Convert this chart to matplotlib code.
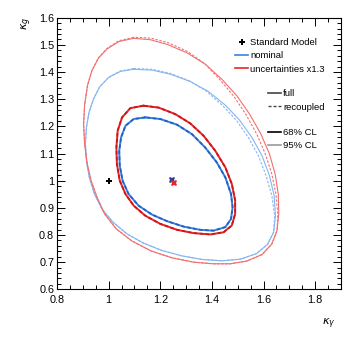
import matplotlib
matplotlib.use("Agg")
import matplotlib.pyplot as plt
from matplotlib.lines import Line2D
from matplotlib.ticker import MultipleLocator, FuncFormatter

plt.rcParams['font.family'] = ['Liberation Sans', 'DejaVu Sans']

# contours (kappa_gamma, kappa_g)
# 95% CL, uncertainties x1.3
x95_red = [1.097, 1.039, 0.994, 0.961, 0.935, 0.918, 0.907, 0.903, 0.907, 0.917, 0.932, 0.955, 0.984,
           1.030, 1.090, 1.165, 1.245, 1.329, 1.406, 1.471, 1.535, 1.594, 1.632, 1.652, 1.659, 1.657,
           1.645, 1.623, 1.590, 1.546, 1.497, 1.439, 1.374, 1.303, 1.226, 1.161, 1.097]
y95_red = [1.524, 1.512, 1.485, 1.452, 1.405, 1.350, 1.280, 1.208, 1.135, 1.061, 1.000, 0.939, 0.878,
           0.822, 0.778, 0.741, 0.716, 0.700, 0.694, 0.694, 0.704, 0.728, 0.767, 0.816, 0.878, 0.951,
           1.024, 1.098, 1.171, 1.245, 1.312, 1.373, 1.429, 1.471, 1.502, 1.519, 1.524]
x95_red_rc = [1.097, 1.039, 0.994, 0.961, 0.935, 0.918, 0.907, 0.903, 0.907, 0.917, 0.932, 0.955, 0.984,
              1.030, 1.090, 1.165, 1.245, 1.329, 1.406, 1.471, 1.535, 1.594, 1.632, 1.652, 1.655, 1.648,
              1.632, 1.607, 1.574, 1.531, 1.484, 1.430, 1.372, 1.305, 1.230, 1.163, 1.097]
y95_red_rc = [1.528, 1.515, 1.487, 1.453, 1.405, 1.350, 1.280, 1.208, 1.135, 1.061, 1.000, 0.939, 0.878,
              0.822, 0.778, 0.741, 0.716, 0.700, 0.694, 0.694, 0.704, 0.728, 0.767, 0.816, 0.878, 0.951,
              1.024, 1.098, 1.171, 1.245, 1.312, 1.373, 1.431, 1.476, 1.508, 1.525, 1.528]
# 95% CL, nominal
x95_blue = [1.097, 1.045, 1.000, 0.965, 0.941, 0.924, 0.914, 0.910, 0.914, 0.925, 0.945, 0.974, 1.017,
            1.071, 1.135, 1.206, 1.284, 1.361, 1.439, 1.510, 1.572, 1.615, 1.639, 1.646, 1.641, 1.623,
            1.594, 1.555, 1.507, 1.452, 1.387, 1.316, 1.239, 1.168, 1.097]
y95_blue = [1.410, 1.402, 1.380, 1.345, 1.300, 1.252, 1.196, 1.135, 1.073, 1.012, 0.951, 0.896, 0.847,
            0.804, 0.770, 0.743, 0.723, 0.710, 0.705, 0.711, 0.731, 0.765, 0.810, 0.871, 0.945, 1.018,
            1.092, 1.159, 1.223, 1.278, 1.328, 1.365, 1.392, 1.407, 1.410]
x95_blue_rc = [1.097, 1.045, 1.000, 0.965, 0.941, 0.924, 0.914, 0.910, 0.914, 0.925, 0.945, 0.974, 1.017,
               1.071, 1.135, 1.206, 1.284, 1.361, 1.439, 1.510, 1.572, 1.615, 1.639, 1.643, 1.632, 1.610,
               1.580, 1.541, 1.494, 1.440, 1.378, 1.312, 1.239, 1.168, 1.097]
y95_blue_rc = [1.413, 1.404, 1.381, 1.345, 1.300, 1.252, 1.196, 1.135, 1.073, 1.012, 0.951, 0.896, 0.847,
               0.804, 0.770, 0.743, 0.723, 0.710, 0.705, 0.711, 0.731, 0.765, 0.810, 0.871, 0.945, 1.018,
               1.092, 1.159, 1.223, 1.278, 1.330, 1.368, 1.395, 1.410, 1.413]
# 68% CL, uncertainties x1.3
x68_red = [1.135, 1.084, 1.052, 1.035, 1.030, 1.032, 1.043, 1.065, 1.097, 1.142, 1.200, 1.265, 1.329,
           1.394, 1.445, 1.477, 1.490, 1.490, 1.477, 1.452, 1.413, 1.368, 1.316, 1.258, 1.194, 1.135]
y68_red = [1.276, 1.267, 1.233, 1.184, 1.122, 1.061, 1.000, 0.951, 0.908, 0.871, 0.841, 0.819, 0.807,
           0.802, 0.810, 0.835, 0.878, 0.927, 0.988, 1.049, 1.110, 1.165, 1.211, 1.245, 1.269, 1.276]
# 68% CL, nominal
x68_blue = [1.142, 1.097, 1.065, 1.048, 1.041, 1.043, 1.054, 1.077, 1.116, 1.168, 1.226, 1.290, 1.355,
            1.406, 1.452, 1.474, 1.480, 1.474, 1.452, 1.419, 1.374, 1.323, 1.265, 1.200, 1.142]
y68_blue = [1.233, 1.227, 1.202, 1.159, 1.110, 1.055, 1.000, 0.951, 0.908, 0.875, 0.851, 0.831, 0.819,
            0.816, 0.829, 0.859, 0.902, 0.951, 1.012, 1.067, 1.122, 1.171, 1.206, 1.227, 1.233]

sm_point = (1.0, 1.0)
bf_nominal = (1.247, 1.003)
bf_scaled = (1.252, 0.993)

blue = '#3b82e0'
red = '#e8262a'
blue_light = '#86b6f2'
red_light = '#f27070'
dash = (0, (2.2, 1.4))

fig = plt.figure(figsize=(3.59, 3.45), dpi=100)
ax = fig.add_axes([0.1588, 0.1614, 0.7911, 0.7873])

ax.plot(x95_blue, y95_blue, color=blue_light, lw=0.8)
ax.plot(x95_blue_rc, y95_blue_rc, color=blue_light, lw=0.8, ls=dash)
ax.plot(x95_red, y95_red, color=red_light, lw=0.8)
ax.plot(x95_red_rc, y95_red_rc, color=red_light, lw=0.8, ls=dash)
ax.plot(x68_red, y68_red, color=red, lw=1.4)
ax.plot(x68_red, y68_red, color='#c81518', lw=1.2, ls=dash)
ax.plot(x68_blue, y68_blue, color=blue, lw=1.4)
ax.plot(x68_blue, y68_blue, color='#1f5fc0', lw=1.2, ls=dash)

ax.plot(*sm_point, marker='P', color='black', ms=5, mew=0)
ax.plot(*bf_nominal, marker='X', color='#2a3fa0', ms=5, mew=0)
ax.plot(*bf_scaled, marker='X', color=red, ms=5, mew=0)

ax.set_xlim(0.8, 1.9)
ax.set_ylim(0.6, 1.6)
ax.xaxis.set_major_locator(MultipleLocator(0.2))
ax.xaxis.set_minor_locator(MultipleLocator(0.05))
ax.yaxis.set_major_locator(MultipleLocator(0.1))
ax.yaxis.set_minor_locator(MultipleLocator(0.02))
fmt = FuncFormatter(lambda v, p: '%g' % round(v, 2))
ax.xaxis.set_major_formatter(fmt)
ax.yaxis.set_major_formatter(fmt)
ax.tick_params(which='both', direction='in', top=True, right=True, labelsize=7.8, width=0.7)
ax.tick_params(which='major', length=5.5)
ax.tick_params(which='minor', length=2.8)
ax.tick_params(axis='x', which='major', pad=3.8)
ax.tick_params(axis='y', which='major', pad=2)
for s in ax.spines.values():
    s.set_linewidth(0.8)

fig.text(27 / 359, 1 - 23 / 345, r'$\kappa_g$', rotation=90, ha='center', va='center', fontsize=8)
fig.text(329 / 359, 1 - 324 / 345, r'$\kappa_\gamma$', ha='center', va='center', fontsize=8)

leg_kw = dict(frameon=False, fontsize=6.8, borderpad=0, borderaxespad=0, handletextpad=0.2,
              handlelength=1.4, labelspacing=0.45, loc='upper left', numpoints=1)
h1 = [Line2D([], [], marker='P', color='black', ls='none', ms=5, mew=0),
      Line2D([], [], color=blue, lw=1.2),
      Line2D([], [], color=red, lw=1.2)]
l1 = ax.legend(h1, ['Standard Model', 'nominal', 'uncertainties x1.3'],
               bbox_to_anchor=(0.627, 0.925), **leg_kw)
ax.add_artist(l1)
h2 = [Line2D([], [], color='#444444', lw=1.2),
      Line2D([], [], color='#444444', lw=1.0, ls=dash)]
l2 = ax.legend(h2, ['full', 'recoupled'], bbox_to_anchor=(0.743, 0.736), **leg_kw)
ax.add_artist(l2)
h3 = [Line2D([], [], color='black', lw=1.2),
      Line2D([], [], color='#999999', lw=1.2)]
ax.legend(h3, ['68% CL', '95% CL'], bbox_to_anchor=(0.743, 0.594), **leg_kw)

fig.savefig('out.png', dpi=100)
